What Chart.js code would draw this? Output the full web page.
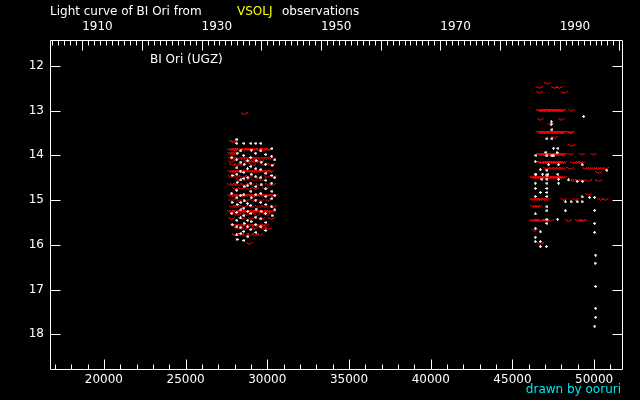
<!DOCTYPE html>
<html>
<head>
<meta charset="utf-8">
<script src="https://cdn.jsdelivr.net/npm/chart.js@4.4.1/dist/chart.umd.min.js"></script>
<style>
  html, body { margin: 0; padding: 0; background: #000; }
  canvas { display: block; }
</style>
</head>
<body>
<canvas id="lightCurve" width="640" height="400"></canvas>
<script>
// JD - 2400000 range of the plot and tick values
const jdMin = 16703;
const jdMax = 51765;
const jdTicks = [20000, 25000, 30000, 35000, 40000, 45000, 50000];
const yearTicks = [1910, 1930, 1950, 1970, 1990];
const magMin = 11.42;
const magMax = 18.8;
const magTicks = [12, 13, 14, 15, 16, 17, 18];

// visual estimates (white crosses): [JD, mag]
const visualObs = [
  [27830,14.05],[27845,14.45],[27820,14.85],[27840,15.05],[27830,15.30],[27850,15.55],
  [28140,13.64],[28135,13.73],[28150,13.95],[28130,14.10],[28145,14.28],[28140,14.42],[28160,14.60],[28130,14.78],[28140,14.95],[28150,15.10],[28135,15.28],[28145,15.45],[28140,15.60],[28130,15.78],[28150,15.88],
  [28380,13.90],[28390,14.15],[28370,14.35],[28385,14.55],[28375,14.90],[28380,15.05],[28390,15.22],[28370,15.40],[28380,15.62],[28385,15.75],
  [28570,13.73],[28560,14.00],[28580,14.20],[28570,14.38],[28565,14.52],[28575,14.70],[28570,14.88],[28580,15.02],[28560,15.18],[28570,15.35],[28575,15.52],[28565,15.70],[28570,15.90],
  [28800,14.12],[28790,14.30],[28810,14.50],[28800,14.68],[28795,15.08],[28805,15.25],[28800,15.45],[28790,15.60],[28810,15.82],
  [29000,13.73],[29010,13.88],[28990,14.05],[29000,14.25],[29005,14.42],[28995,14.62],[29000,14.80],[29010,14.95],[28990,15.12],[29000,15.30],[29005,15.48],[28995,15.66],
  [29300,13.73],[29290,13.95],[29310,14.12],[29300,14.30],[29295,14.48],[29305,14.70],[29300,14.88],[29290,15.00],[29310,15.20],[29300,15.38],[29295,15.55],[29305,15.72],
  [29610,13.73],[29600,13.90],[29620,14.15],[29610,14.32],[29605,14.50],[29615,14.66],[29610,14.85],[29600,15.05],[29620,15.25],[29610,15.42],[29605,15.60],
  [29910,13.98],[29900,14.20],[29920,14.40],[29910,14.56],[29905,14.75],[29915,14.92],[29910,15.10],[29900,15.30],[29920,15.50],[29910,15.68],
  [30280,13.85],[30270,14.02],[30290,14.22],[30280,14.45],[30275,14.62],[30285,14.80],[30280,14.97],[30270,15.15],[30290,15.35],
  [30460,14.10],[30450,14.50],[30470,14.90],[30460,15.22],
  [49356,13.13],[47378,13.25],[47378,13.30],[47420,13.43],[47114,13.63],[47420,13.63],[47518,13.84],[47787,13.84],
  [47050,13.93],[47727,13.94],[46440,14.00],[47114,14.01],[47420,14.01],[47520,14.01],[46397,14.14],[47212,14.21],
  [47825,14.21],[49258,14.21],[46703,14.32],[47114,14.33],[50778,14.33],[46397,14.42],[46440,14.42],[46844,14.42],
  [47175,14.42],[47787,14.42],[47114,14.44],[46807,14.53],[47114,14.53],[47825,14.53],[48437,14.55],[48952,14.58],
  [49295,14.58],[46397,14.62],[47114,14.62],[47825,14.62],[46397,14.74],[47114,14.74],[46703,14.83],[47114,14.83],
  [46397,14.92],[47114,14.92],[49258,14.93],[49723,14.94],[50030,14.94],[48236,15.04],[48585,15.04],[48952,15.04],
  [49258,15.04],[47114,15.15],[47114,15.24],[48236,15.24],[50030,15.23],[46397,15.31],[47114,15.43],[47764,15.43],
  [47114,15.52],[50030,15.52],[46397,15.63],[46703,15.71],[50030,15.72],[46397,15.83],[46397,15.93],[46703,15.93],
  [47070,16.04],[46703,16.04],[50090,16.23],[50060,16.41],[50090,16.93],[50090,17.42],[50090,17.62],[50030,17.82]
];

// "fainter than" reports (red v marks): [mag, [JD, ...]]
const fainterRuns = [
  [13.07, [28580]],
  [13.69, [27850, 28000]],
  [13.87, [27720, 27850, 27990, 28120, 28300, 28460, 28600, 28760, 28900, 29050, 29200, 29380, 29520, 29700, 29850, 30000, 30150]],
  [13.95, [27750, 27880, 28010]],
  [14.06, [27800, 27950, 28250, 28420, 28600, 28780, 28960, 29150, 29350, 29550, 29750, 29950, 30200]],
  [14.14, [27780, 28700, 28860, 29020, 29200, 29400, 29600]],
  [14.21, [27900, 28150, 28450, 29100, 29800, 30250]],
  [14.35, [27720, 27860, 28000, 28150, 28300, 28450, 28600, 28750, 28900, 29050, 29200, 29350, 29500, 29650, 29800, 29950, 30100, 30250]],
  [14.48, [27800, 28100, 28500, 28900, 29450, 30000, 30400]],
  [14.55, [28300, 28700, 29200, 29700]],
  [14.66, [27750, 27950, 28200, 28600, 29000, 29500, 30100, 30300]],
  [14.74, [28050, 28400, 28850, 29300, 29900]],
  [14.89, [27720, 27870, 28020, 28170, 28320, 28470, 28620, 28770, 28920, 29070, 29220, 29370, 29520, 29670, 29820, 29970, 30120, 30270, 30420]],
  [15.00, [27780, 28250, 28700, 29150, 29600, 30050]],
  [15.15, [27850, 28100, 28550, 29000, 29450, 29900, 30350]],
  [15.26, [27750, 27900, 28050, 28200, 28350, 28500, 28650, 28800, 28950, 29100, 29250, 29400, 29550, 29700, 29850, 30000, 30150, 30300]],
  [15.33, [28150, 28750, 29350, 29950]],
  [15.41, [27800, 28450, 29050, 29650, 30250]],
  [15.56, [27900, 28100, 28300, 28500, 28700, 28900, 29100, 29300, 29500, 29700, 29900]],
  [15.63, [28200, 28650, 29200, 29750, 30100]],
  [15.78, [28050, 28350, 28650, 28950, 29250, 29550]],
  [15.97, [28890]],
  [12.39, [47150]],
  [12.48, [46640, 47560, 47870]],
  [12.59, [46640, 48170]],
  [12.99, [46640, 46720, 46800, 46880, 46960, 47040, 47120, 47200, 47280, 47360, 47440, 47520, 47600, 47680, 47760, 47840, 47920, 48000, 48080, 48620]],
  [13.19, [46700, 47990]],
  [13.30, [47330]],
  [13.48, [46640, 46720, 46800, 46880, 46960, 47040, 47120, 47200, 47280, 47360, 47440, 47520, 47600, 47680, 47760, 47840, 47920, 48000, 48080, 48130, 48480, 48540, 48600]],
  [13.59, [47600]],
  [13.78, [48620]],
  [13.97, [46640, 46720, 46800, 46880, 46960, 47040, 47120, 47200, 47280, 47360, 47440, 47520, 47600, 47680, 47760, 47840, 47920, 48000, 48080, 48130, 48540, 49255, 49966]],
  [14.16, [46700, 46800, 46900, 47000, 47100, 47200, 47300, 47400, 47500, 47600, 47700, 47800, 47900, 48000, 48130, 48730, 48900, 49100, 49255]],
  [14.29, [47110, 47300, 47500, 47700, 47900, 48100, 48540, 49460, 49700, 49960, 50200, 50450, 50680]],
  [14.38, [50275]],
  [14.49, [46200, 46300, 46400, 46500, 46600, 46700, 46800, 46900, 47000, 47100, 47200, 47300, 47400, 47500, 47600, 47700, 47800, 47900, 48000, 48130]],
  [14.57, [48540, 48800, 49050, 49300, 49640, 50275]],
  [14.87, [49664]],
  [14.98, [46200, 46350, 46500, 46650, 46800, 46950, 47120, 48130, 48850, 50380, 50690]],
  [15.14, [46300, 46450, 46600]],
  [15.46, [46200, 46350, 46500, 46650, 46800, 47000, 47110, 47316, 48437, 49050, 49200, 49356]],
  [15.67, [46360]],
  [15.98, [46700]]
];

function jdToYear(jd) {
  return 1900 + (jd - 15020) / 365.25;
}

// small pixel sprites for the two marker kinds
function makeSprite(w, h, pixels, color) {
  const c = document.createElement('canvas');
  c.width = w; c.height = h;
  const g = c.getContext('2d');
  g.fillStyle = color;
  pixels.forEach(p => g.fillRect(p[0], p[1], 1, 1));
  return c;
}
const crossMark = makeSprite(3, 3, [[1,0],[0,1],[1,1],[2,1],[1,2]], '#ffffff');
const vMark = makeSprite(7, 3, [[0,0],[6,0],[1,1],[2,1],[4,1],[5,1],[3,2]], '#ff0000');

const visualPoints = visualObs.map(p => ({x: p[0], y: p[1]}));
const fainterPoints = [];
fainterRuns.forEach(run => run[1].forEach(jd => fainterPoints.push({x: jd, y: run[0]})));

// frame, inward ticks and texts
const axisFrame = {
  id: 'axisFrame',
  afterDraw(chart) {
    const {ctx, chartArea: a, scales} = chart;
    const L = Math.round(a.left) + 0.5, R = Math.round(a.right) - 0.5;
    const T = Math.round(a.top) + 0.5, B = Math.round(a.bottom) - 0.5;
    ctx.save();
    ctx.strokeStyle = '#ffffff';
    ctx.lineWidth = 1;
    ctx.beginPath();
    ctx.rect(L, T, R - L, B - T);
    for (let v = 17000; v <= jdMax; v += 1000) {
      const x = Math.round(scales.x.getPixelForValue(v)) + 0.5;
      const len = v % 5000 === 0 ? 10 : 5;
      ctx.moveTo(x, B); ctx.lineTo(x, B - len);
    }
    for (let yr = 1905; yr <= 2000; yr++) {
      const x = Math.round(scales.yr.getPixelForValue(yr)) + 0.5;
      const len = yr % 10 === 0 ? 10 : 5;
      ctx.moveTo(x, T); ctx.lineTo(x, T + len);
    }
    magTicks.forEach(m => {
      const y = Math.round(scales.y.getPixelForValue(m)) + 0.5;
      ctx.moveTo(L, y); ctx.lineTo(L + 10, y);
      ctx.moveTo(R, y); ctx.lineTo(R - 10, y);
    });
    ctx.stroke();

    ctx.font = '12px "DejaVu Sans"';
    ctx.textBaseline = 'middle';
    ctx.textAlign = 'left';
    ctx.fillStyle = '#ffffff';
    ctx.fillText('Light curve of BI Ori from', 50, 12);
    ctx.fillStyle = '#ffff00';
    ctx.fillText('VSOLJ', 237, 12);
    ctx.fillStyle = '#ffffff';
    ctx.fillText('observations', 282, 12);
    ctx.fillText('BI Ori (UGZ)', 150, 60);
    ctx.fillStyle = '#00e8f0';
    ctx.textAlign = 'right';
    ctx.fillText('drawn by ooruri', 621, 390);
    ctx.restore();
  }
};

Chart.defaults.font.family = '"DejaVu Sans", sans-serif';
Chart.defaults.font.size = 12;
Chart.defaults.color = '#ffffff';

new Chart(document.getElementById('lightCurve'), {
  type: 'scatter',
  data: {
    datasets: [{
      label: 'visual',
      data: visualPoints,
      pointStyle: crossMark,
      pointRadius: 2
    }, {
      label: 'fainter than',
      data: fainterPoints,
      pointStyle: vMark,
      pointRadius: 3
    }]
  },
  options: {
    responsive: false,
    animation: false,
    events: [],
    layout: { padding: { left: 0, right: 17, top: 0, bottom: 0 } },
    plugins: { legend: { display: false }, tooltip: { enabled: false } },
    scales: {
      x: {
        type: 'linear', position: 'bottom', min: jdMin, max: jdMax,
        afterBuildTicks: s => { s.ticks = jdTicks.map(v => ({value: v})); },
        afterFit: s => { s.height = 30; },
        grid: { display: false, drawTicks: false },
        border: { display: false },
        ticks: { padding: 3, maxRotation: 0, callback: v => String(v) }
      },
      yr: {
        type: 'linear', position: 'top', min: jdToYear(jdMin), max: jdToYear(jdMax),
        afterBuildTicks: s => { s.ticks = yearTicks.map(v => ({value: v})); },
        afterFit: s => { s.height = 40; },
        grid: { display: false, drawTicks: false },
        border: { display: false },
        ticks: { align: 'start', padding: 6, maxRotation: 0, callback: v => String(v) }
      },
      y: {
        type: 'linear', reverse: true, min: magMin, max: magMax,
        afterBuildTicks: s => { s.ticks = magTicks.map(v => ({value: v})); },
        afterFit: s => { s.width = 50; },
        grid: { display: false, drawTicks: false },
        border: { display: false },
        ticks: { padding: 6, callback: v => String(v) }
      }
    }
  },
  plugins: [axisFrame]
});
</script>
</body>
</html>
